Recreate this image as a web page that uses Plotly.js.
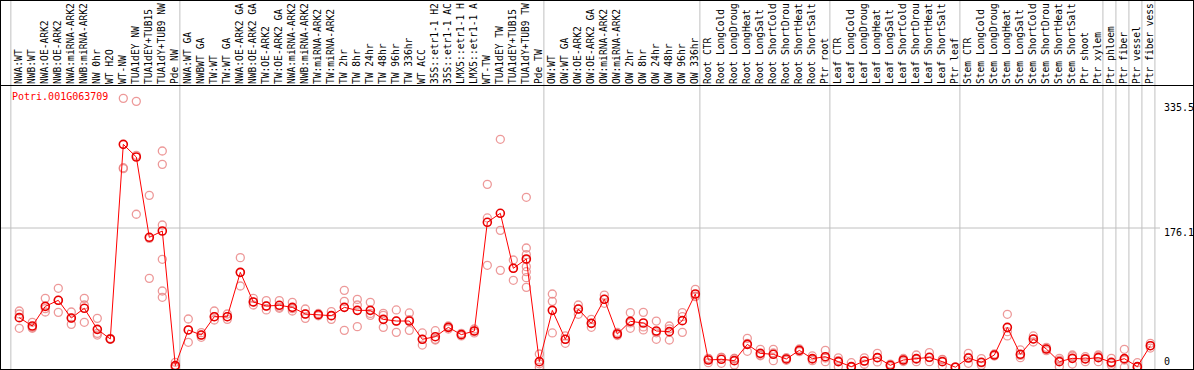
<!DOCTYPE html>
<html>
<head>
<meta charset="utf-8">
<script src="https://cdn.plot.ly/plotly-3.0.1.min.js"></script>
<style>
html,body{margin:0;padding:0;background:#fff;}
#chart{width:1194px;height:370px;}
</style>
</head>
<body>
<div id="chart"></div>
<script>
// ---- data ----
var geneName = 'Potri.001G063709';

var sampleLabels = [
  'NWA:WT','NWB:WT','NWA:OE-ARK2','NWB:OE-ARK2','NWA:miRNA-ARK2','NWB:miRNA-ARK2','NW 0hr','WT H2O','WT-NW',
  'TUA1dEY NW','TUA1dEY+TUB15 NW','TUA1dY+TUB9 NW','Pde NW',
  'NWA:WT GA','NWBWT GA','TW:WT','TW:WT GA','NWA:OE-ARK2 GA','NWB:OE-ARK2 GA','TW:OE-ARK2','TW:OE-ARK2 GA',
  'NWA:miRNA-ARK2 GA','NWB:miRNA-ARK2 GA','TW:miRNA-ARK2','TW:miRNA-ARK2 GA',
  'TW 2hr','TW 8hr','TW 24hr','TW 48hr','TW 96hr','TW 336hr','WT ACC',
  '35S::etr1-1 H2O','35S::etr1-1 ACC','LMX5::etr1-1 H2O','LMX5::etr1-1 ACC',
  'WT-TW','TUA1dEY TW','TUA1dEY+TUB15 TW','TUA1dY+TUB9 TW','Pde TW',
  'OW:WT','OW:WT GA','OW:OE-ARK2','OW:OE-ARK2 GA','OW:miRNA-ARK2','OW:miRNA-ARK2 GA',
  'OW 2hr','OW 8hr','OW 24hr','OW 48hr','OW 96hr','OW 336hr',
  'Root CTR','Root LongCold','Root LongDrought','Root LongHeat','Root LongSalt',
  'Root ShortCold','Root ShortDrought','Root ShortHeat','Root ShortSalt','Ptr root',
  'Leaf CTR','Leaf LongCold','Leaf LongDrought','Leaf LongHeat','Leaf LongSalt',
  'Leaf ShortCold','Leaf ShortDrought','Leaf ShortHeat','Leaf ShortSalt','Ptr leaf',
  'Stem CTR','Stem LongCold','Stem LongDrought','Stem LongHeat','Stem LongSalt',
  'Stem ShortCold','Stem ShortDrought','Stem ShortHeat','Stem ShortSalt','Ptr shoot','Ptr xylem',
  'Ptr phloem','Ptr fiber','Ptr vessel','Ptr fiber vessel'
];

var meanValues = [
  62.7,52.1,77.0,84.6,62.2,74.5,47.9,35.7,281.9,265.9,164.3,172.3,2.0,
  47.1,40.7,63.9,63.9,120.0,82.5,77.4,78.3,75.7,67.3,66.5,65.2,75.7,71.9,71.9,60.5,58.4,58.4,35.3,
  38.6,50.4,41.2,45.8,183.3,194.7,125.1,136.9,7.0,
  71.9,35.3,73.6,55.5,85.9,42.0,58.0,55.9,45.8,45.0,58.9,92.6,
  9.1,10.0,8.3,28.9,17.5,16.3,10.4,21.3,10.8,13.3,
  7.0,0.7,7.8,12.1,2.4,9.1,10.8,12.5,7.0,0.0,
  11.6,6.2,15.4,50.4,16.3,35.7,23.0,7.0,11.2,10.4,12.1,
  6.2,10.8,0.7,27.2
];

var rep1 = [
  71.1,56.8,87.1,99.8,69.8,87.1,61.8,36.5,340.1,336.3,217.4,273.5,6.2,
  61.0,43.7,71.1,67.3,138.6,87.1,84.2,84.2,82.1,73.6,68.0,70.3,97.2,85.8,82.1,68.1,72.4,68.6,43.3,
  46.2,52.1,42.8,48.3,231.3,288.3,135.6,214.9,16.7,
  92.6,39.5,78.7,60.5,91.3,44.0,69.0,69.4,58.4,52.1,69.0,98.5,
  11.2,12.5,11.0,36.5,22.6,22.6,12.0,23.0,14.2,21.3,
  11.9,5.7,11.9,17.5,4.0,11.0,15.4,18.4,10.0,0.0,
  17.5,10.8,16.7,66.9,21.8,39.5,25.1,11.2,15.4,13.3,15.4,
  11.2,22.6,5.7,30.2
];
var rep2 = [
  67.3,50.4,74.1,84.6,62.2,78.7,42.8,35.3,252.4,268.0,163.0,256.6,0.0,
  47.1,40.7,63.9,63.9,120.0,82.5,77.4,76.0,74.0,67.3,66.5,65.2,83.3,78.7,68.0,65.6,58.4,60.0,35.3,
  35.3,50.4,41.2,45.8,188.8,173.1,125.1,150.8,4.3,
  83.3,35.3,73.6,55.5,85.9,42.0,56.0,51.0,43.5,48.5,63.9,89.2,
  10.5,12.5,11.0,30.0,15.4,18.0,10.4,21.3,10.0,11.6,
  8.4,0.0,7.8,12.1,2.4,9.1,10.0,12.0,9.5,0.0,
  12.5,5.4,15.4,45.0,15.0,35.7,23.0,9.0,14.0,11.0,13.8,
  5.0,9.0,0.0,27.2
];
var rep3 = [
  49.2,49.2,69.8,69.4,54.2,56.8,40.7,35.3,251.2,193.5,112.4,179.9,0.0,
  31.5,37.8,59.7,60.5,102.7,78.7,72.4,74.5,71.1,61.8,65.0,60.5,46.6,51.3,65.6,50.4,44.1,46.6,28.0,
  34.4,48.3,39.5,43.3,128.9,122.5,109.9,142.4,0.0,
  43.3,30.2,66.9,50.5,80.8,40.0,49.2,47.1,35.3,34.4,44.1,90.0,
  5.7,4.9,2.8,20.1,14.5,8.3,8.8,19.6,8.2,7.0,
  0.7,0.0,3.7,6.7,0.8,7.2,7.0,7.0,1.5,0.0,
  4.9,2.4,14.1,39.5,12.1,31.9,20.9,0.7,4.0,7.0,7.0,
  2.4,0.0,0.0,24.2
];
// additional replicates for samples that have more than three
var extraRepSample = [11,11,11,39,39,39,39,39];
var extraRepValue  = [136.5,96.4,88.4,136.0,127.2,120.8,113.2,101.0];

var axisLabelValues = [0, 176.1, 335.5];
var gridValue = 176.1;
// last sample index of each group (separators drawn after these); -1 is the left edge
var groupEnds = [-1,12,40,52,62,72,83,84,85,86,87];

// ---- build ----
var maxChars = 14; // the label band only has room for this many characters
var shownLabels = sampleLabels.map(function(s){ return s.length > maxChars ? s.slice(0, maxChars).replace(/\s+$/, '') : s; });
var idx = sampleLabels.map(function(_, i){ return i; });
var repX = [], repY = [];
[rep1, rep2, rep3].forEach(function(arr){
  arr.forEach(function(v, i){ if (v !== null) { repX.push(i); repY.push(v); } });
});
extraRepSample.forEach(function(s, k){ repX.push(s); repY.push(extraRepValue[k]); });

var mono = 'DejaVu Sans Mono, monospace';

var traces = [
  {
    x: repX, y: repY, type: 'scatter', mode: 'markers', hoverinfo: 'skip',
    marker: {symbol: 'circle-open', size: 8, color: 'rgba(232,128,128,0.8)', line: {width: 1.3}}
  },
  {
    x: idx, y: meanValues, type: 'scatter', mode: 'lines+markers',
    line: {color: '#ff0000', width: 1},
    marker: {symbol: 'circle-open', size: 8, color: '#e80000', line: {width: 1.6}}
  }
];

var H = 284; // plot height in px
var shapes = [];
groupEnds.forEach(function(g){
  shapes.push({type: 'line', xref: 'x', yref: 'paper', x0: g + 0.35, x1: g + 0.35,
    y0: 0, y1: 1 + 85 / H, line: {color: '#c0c0c0', width: 1}, layer: 'below'});
});
shapes.push({type: 'line', xref: 'paper', yref: 'y', x0: 0, x1: 0.9723, y0: gridValue, y1: gridValue,
  line: {color: '#c0c0c0', width: 1}, layer: 'below'});
// frame
var fx0 = -0.5 / 1192, fx1 = 1 + 0.5 / 1192;
var ly = function(px){ return (369 - px) / H; };
[[fx0, ly(0.5), fx1, ly(0.5)], [fx0, ly(85.5), fx1, ly(85.5)], [fx0, ly(369.5), fx1, ly(369.5)],
 [fx0, ly(0), fx0, ly(370)], [fx1, ly(0), fx1, ly(370)]].forEach(function(s){
  shapes.push({type: 'line', xref: 'paper', yref: 'paper', x0: s[0], y0: s[1], x1: s[2], y1: s[3],
    line: {color: '#000', width: 1}});
});

var annotations = [
  {text: geneName, xref: 'paper', yref: 'paper', x: 9 / 1192, y: ly(96.7), xanchor: 'left', yanchor: 'middle',
   showarrow: false, font: {family: mono, size: 10, color: '#ff0000'}}
];
var shifts = {0: 5.5, 176.1: -4.7, 335.5: -5};
axisLabelValues.forEach(function(v){
  annotations.push({text: String(v), xref: 'paper', yref: 'y', x: (1162 - 1) / 1192, y: v,
    xanchor: 'left', yanchor: 'middle', yshift: shifts[v], showarrow: false,
    font: {family: mono, size: 10, color: '#000'}});
});

var layout = {
  width: 1194, height: 370,
  margin: {l: 1, r: 1, t: 85, b: 1, pad: 0},
  paper_bgcolor: '#fff', plot_bgcolor: '#fff',
  showlegend: false,
  xaxis: {
    range: [-1.408, 90.28], side: 'top', tickmode: 'array', tickvals: idx, ticktext: shownLabels,
    tickangle: -90, ticks: '', showgrid: false, zeroline: false, showline: false, automargin: false,
    tickfont: {family: mono, size: 9.6, color: '#000'}
  },
  yaxis: {
    range: [-2.28, 357.0], showticklabels: false, showgrid: false, zeroline: false, showline: false,
    ticks: '', automargin: false
  },
  shapes: shapes,
  annotations: annotations
};

Plotly.newPlot('chart', traces, layout, {staticPlot: true, displayModeBar: false});
</script>
</body>
</html>
